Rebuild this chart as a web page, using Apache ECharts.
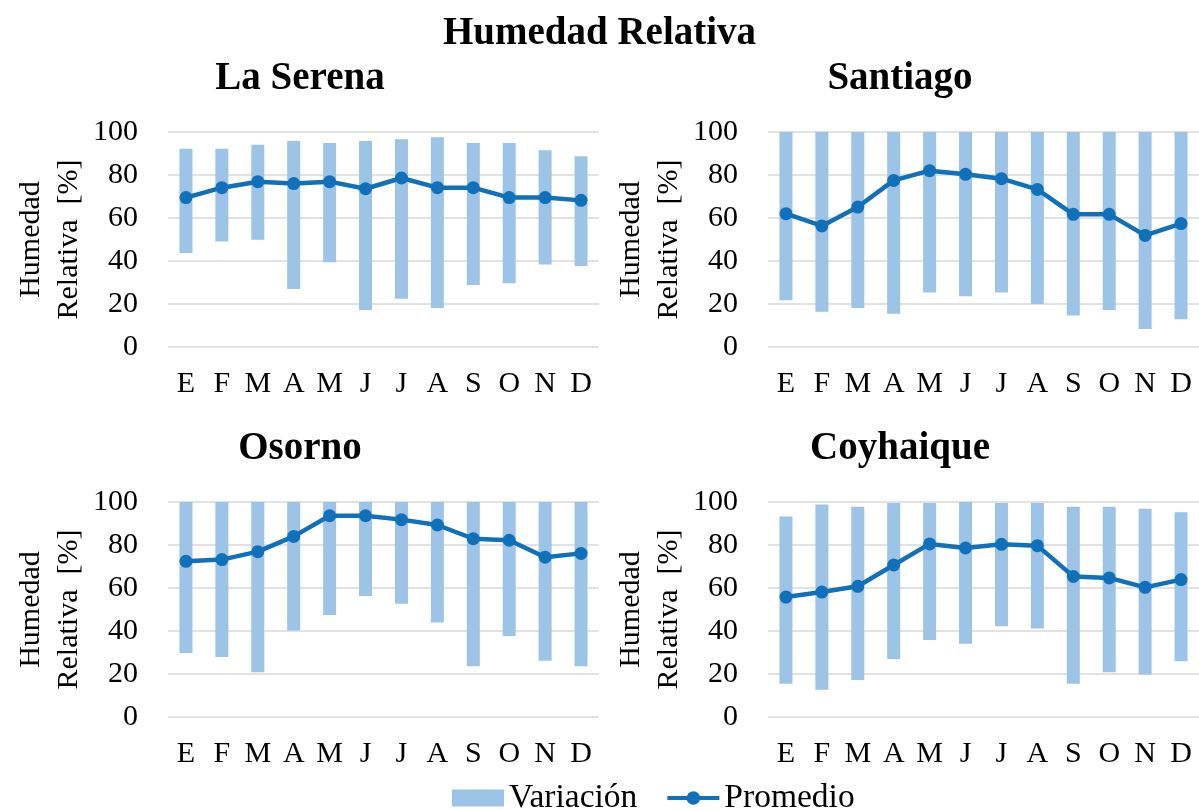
<!DOCTYPE html>
<html>
<head>
<meta charset="utf-8">
<title>Humedad Relativa</title>
<script src="https://cdn.jsdelivr.net/npm/echarts@6/dist/echarts.min.js"></script>
<style>
  html, body { margin: 0; padding: 0; background: #fff; }
  #chart { width: 1199px; height: 810px; }
</style>
</head>
<body>
<div id="chart"></div>
<script>
// Months (Spanish initials)
const months = ['E', 'F', 'M', 'A', 'M', 'J', 'J', 'A', 'S', 'O', 'N', 'D'];
const yTicks = [0, 20, 40, 60, 80, 100];

// Monthly relative humidity [%]: minimum, maximum and mean per station
const serenaMin  = [43.7, 49.1, 49.9, 27.0, 39.4, 17.2, 22.5, 18.1, 28.8, 29.6, 38.4, 37.7];
const serenaMax  = [92.2, 92.2, 94.1, 95.8, 94.9, 95.8, 96.6, 97.5, 94.9, 94.9, 91.5, 88.7];
const serenaMean = [69.5, 74.1, 76.9, 76.0, 76.9, 73.6, 78.6, 74.1, 74.1, 69.5, 69.5, 68.2];

const santiagoMin  = [21.7, 16.4, 18.1, 15.5, 25.3, 23.6, 25.3, 20.0, 14.6, 17.2, 8.4, 12.9];
const santiagoMax  = [100, 100, 100, 100, 100, 100, 100, 100, 100, 100, 100, 100];
const santiagoMean = [62.0, 56.3, 65.1, 77.5, 82.0, 80.3, 78.3, 73.3, 61.7, 61.7, 51.9, 57.4];

const osornoMin  = [29.8, 27.9, 20.8, 40.2, 47.4, 56.3, 52.7, 43.9, 23.6, 37.7, 26.2, 23.6];
const osornoMax  = [100, 100, 100, 100, 100, 100, 100, 100, 100, 100, 100, 100];
const osornoMean = [72.4, 73.2, 76.9, 84.0, 93.6, 93.6, 91.8, 89.3, 82.9, 82.2, 74.3, 76.1];

const coyhaiqueMin  = [15.5, 12.7, 17.2, 27.0, 35.8, 34.1, 42.2, 41.2, 15.5, 20.8, 19.8, 25.9];
const coyhaiqueMax  = [93.3, 98.8, 97.8, 99.5, 99.5, 100, 99.5, 99.5, 97.8, 97.8, 96.9, 95.2];
const coyhaiqueMean = [55.8, 58.1, 60.8, 70.7, 80.5, 78.6, 80.3, 79.7, 65.4, 64.7, 60.3, 63.9];

const stations = [
  { name: 'La Serena', min: serenaMin, max: serenaMax, mean: serenaMean },
  { name: 'Santiago', min: santiagoMin, max: santiagoMax, mean: santiagoMean },
  { name: 'Osorno', min: osornoMin, max: osornoMax, mean: osornoMean },
  { name: 'Coyhaique', min: coyhaiqueMin, max: coyhaiqueMax, mean: coyhaiqueMean }
];

const FONT = 'Liberation Serif, Times New Roman, serif';
const BAR_COLOR = '#9DC3E6';
const LINE_COLOR = '#1170BA';

// Panel placement: 2 x 2
const panelPos = [
  { left: 168, top: 132, cx: 300 },
  { left: 768, top: 132, cx: 900 },
  { left: 168, top: 502, cx: 300 },
  { left: 768, top: 502, cx: 900 }
];

const titles = [{
  text: 'Humedad Relativa',
  left: 'center',
  top: 14,
  padding: 0,
  textStyle: { fontFamily: FONT, fontSize: 39, fontWeight: 'bold', color: '#000' }
}];
const grids = [], xAxes = [], yAxes = [], series = [];

stations.forEach((st, i) => {
  const p = panelPos[i];
  titles.push({
    text: st.name,
    left: p.cx,
    textAlign: 'center',
    top: p.top - 73,
    padding: 0,
    textStyle: { fontFamily: FONT, fontSize: 39, fontWeight: 'bold', color: '#000' }
  });
  grids.push({ left: p.left, top: p.top, width: 431, height: 215 });
  xAxes.push({
    type: 'category',
    gridIndex: i,
    data: months,
    boundaryGap: true,
    axisLine: { show: false },
    axisTick: { show: false },
    axisLabel: { interval: 0, margin: 22, fontFamily: FONT, fontSize: 30, color: '#000' }
  });
  yAxes.push({
    type: 'value',
    gridIndex: i,
    min: yTicks[0],
    max: yTicks[yTicks.length - 1],
    interval: yTicks[1] - yTicks[0],
    name: 'Humedad\nRelativa  [%]',
    nameLocation: 'middle',
    nameGap: 80,
    nameTextStyle: { fontFamily: FONT, fontSize: 30, color: '#000', lineHeight: 38 },
    axisLine: { show: false },
    axisTick: { show: false },
    axisLabel: { margin: 30, fontFamily: FONT, fontSize: 30, color: '#000' },
    splitLine: { show: true, lineStyle: { color: '#D9D9D9', width: 1.5 } }
  });
  const stackName = 'rango' + i;
  series.push({
    type: 'bar',
    xAxisIndex: i,
    yAxisIndex: i,
    stack: stackName,
    silent: true,
    barWidth: 13,
    itemStyle: { color: 'rgba(0,0,0,0)' },
    data: st.min
  });
  series.push({
    name: 'Variación',
    type: 'bar',
    xAxisIndex: i,
    yAxisIndex: i,
    stack: stackName,
    barWidth: 13,
    itemStyle: { color: BAR_COLOR },
    data: st.max.map((v, k) => +(v - st.min[k]).toFixed(1))
  });
  series.push({
    name: 'Promedio',
    type: 'line',
    xAxisIndex: i,
    yAxisIndex: i,
    z: 5,
    symbol: 'circle',
    symbolSize: 13,
    lineStyle: { color: LINE_COLOR, width: 4.5 },
    itemStyle: { color: LINE_COLOR },
    data: st.mean
  });
});

const chart = echarts.init(document.getElementById('chart'), null, { renderer: 'canvas' });
chart.setOption({
  backgroundColor: '#fff',
  animation: false,
  title: titles,
  legend: {
    data: [
      { name: 'Variación', icon: 'rect' },
      { name: 'Promedio', lineStyle: { width: 4 } }
    ],
    left: 452,
    top: 781,
    padding: 0,
    itemWidth: 52,
    itemHeight: 17,
    itemGap: 28,
    textStyle: { fontFamily: FONT, fontSize: 33.5, color: '#000' }
  },
  grid: grids,
  xAxis: xAxes,
  yAxis: yAxes,
  series: series
});
</script>
</body>
</html>
